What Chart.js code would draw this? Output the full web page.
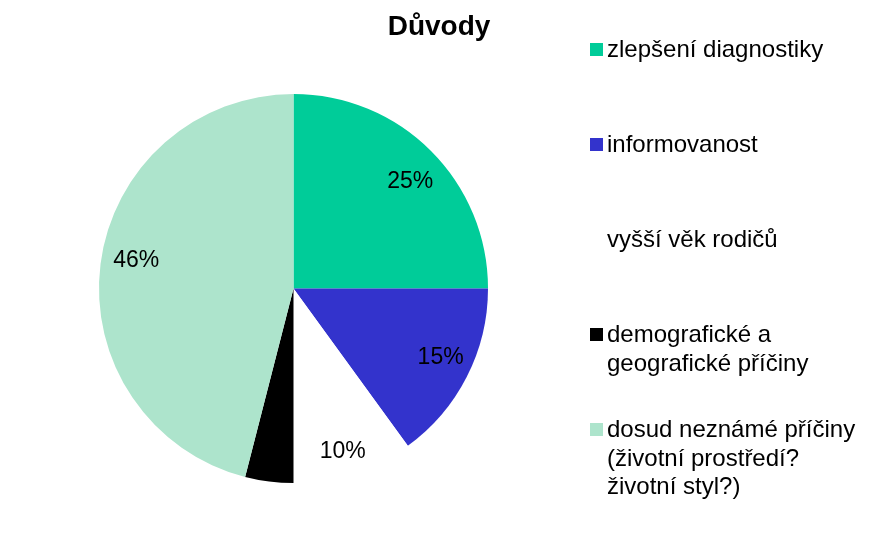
<!DOCTYPE html>
<html>
<head>
<meta charset="utf-8">
<script src="https://cdn.jsdelivr.net/npm/chart.js@4.4.0/dist/chart.umd.min.js"></script>
<style>
  html, body { margin: 0; padding: 0; background: #ffffff; }
  canvas { display: block; }
</style>
</head>
<body>
<canvas id="pie" width="874" height="533"></canvas>
<script>
// chart data
const title = 'Důvody';
const categories = [
    ['zlepšení diagnostiky'],
    ['informovanost'],
    ['vyšší věk rodičů'],
    ['demografické a', 'geografické příčiny'],
    ['dosud neznámé příčiny', '(životní prostředí?', 'životní styl?)']
];
const shares = [25, 15, 10, 4, 46];
const sliceColors = ['#00CC99', '#3333CC', '#FFFFFF', '#000000', '#ADE4CC'];

const FONT = '"Liberation Sans", Arial, sans-serif';
// small hand nudges so labels sit where the original placed them
const labelNudge = [[4, 6], [5, -3], [0, 11], [0, 0], [1, -8]];

// percentage labels inside the slices
const sliceLabels = {
    id: 'sliceLabels',
    afterDatasetsDraw(chart) {
        const ctx = chart.ctx;
        const meta = chart.getDatasetMeta(0);
        ctx.save();
        ctx.font = '23px ' + FONT;
        ctx.fillStyle = '#000000';
        ctx.textAlign = 'center';
        ctx.textBaseline = 'middle';
        meta.data.forEach((arc, i) => {
            const p = arc.getProps(['x', 'y', 'startAngle', 'endAngle', 'outerRadius'], true);
            const mid = (p.startAngle + p.endAngle) / 2;
            const r = p.outerRadius * 0.82;
            const [dx, dy] = labelNudge[i];
            ctx.fillText(shares[i] + '%', p.x + Math.cos(mid) * r + dx, p.y + Math.sin(mid) * r + dy);
        });
        ctx.restore();
    }
};

// title and legend on the right, drawn by hand
const sideLegend = {
    id: 'sideLegend',
    afterDraw(chart) {
        const ctx = chart.ctx;
        ctx.save();
        ctx.fillStyle = '#000000';
        ctx.textAlign = 'center';
        ctx.textBaseline = 'alphabetic';
        ctx.font = 'bold 28px ' + FONT;
        ctx.fillText(title, 439, 35);

        ctx.font = '24px ' + FONT;
        ctx.textAlign = 'left';
        categories.forEach((lines, i) => {
            const y = 49.5 + i * 95;
            ctx.fillStyle = sliceColors[i];
            ctx.fillRect(590, y - 6.5, 13, 13);
            ctx.fillStyle = '#000000';
            lines.forEach((line, j) => ctx.fillText(line, 607, y + 7.5 + j * 28.5));
        });
        ctx.restore();
    }
};

new Chart(document.getElementById('pie').getContext('2d'), {
    type: 'pie',
    data: {
        labels: categories.map(c => c.join(' ')),
        datasets: [{
            data: shares,
            backgroundColor: sliceColors,
            borderWidth: 0
        }]
    },
    options: {
        responsive: false,
        animation: false,
        devicePixelRatio: 1,
        layout: { padding: { left: 99, top: 94, right: 386, bottom: 50 } },
        plugins: {
            legend: { display: false },
            title: { display: false },
            tooltip: { enabled: false }
        }
    },
    plugins: [sliceLabels, sideLegend]
});
</script>
</body>
</html>
